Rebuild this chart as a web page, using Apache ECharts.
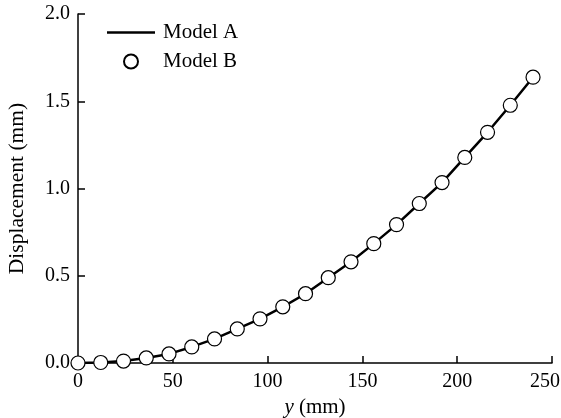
<!DOCTYPE html>
<html><head><meta charset="utf-8">
<script src="https://cdn.jsdelivr.net/npm/echarts@6/dist/echarts.min.js"></script>
<style>html,body{margin:0;padding:0;background:#fff}#c{width:561px;height:418px}</style>
</head><body><div id="c"></div>
<script>
var positions = [0,12,24,36,48,60,72,84,96,108,120,132,144,156,168,180,192,204,216,228,240];
var modelA = [0,0.003,0.011,0.029,0.052,0.092,0.138,0.195,0.253,0.322,0.397,0.489,0.580,0.684,0.793,0.914,1.034,1.178,1.322,1.477,1.638];
var modelB = [0,0.003,0.011,0.029,0.052,0.092,0.138,0.195,0.253,0.322,0.397,0.489,0.580,0.684,0.793,0.914,1.034,1.178,1.322,1.477,1.638];
var xTicks = [0,50,100,150,200,250];
var yTicks = [0,0.5,1.0,1.5,2.0];
var seriesNames = ['Model A','Model B'];

var font = 'Liberation Serif';
var chart = echarts.init(document.getElementById('c'), null, {renderer:'canvas'});
function pairs(xs, ys){ return xs.map(function(x,i){return [x, ys[i]];}); }
var xMax = xTicks[xTicks.length-1];
chart.setOption({
  animation:false,
  backgroundColor:'#fff',
  grid:{left:78,right:9,top:14,bottom:55,containLabel:false,outerBoundsMode:'none'},
  legend:{
    orient:'vertical', left:107, top:22, padding:0, itemWidth:48, itemHeight:14, itemGap:8,
    textStyle:{fontFamily:font,fontSize:21,color:'#000',padding:[0,0,0,3]},
    data:[{name:seriesNames[0],icon:'path://M0,0 L48,0 L48,2.5 L0,2.5 Z'},{name:seriesNames[1]}]
  },
  xAxis:{
    type:'value', min:xTicks[0], max:xMax, interval:50,
    name:'{i|y} (mm)', nameLocation:'middle', nameGap:27,
    nameTextStyle:{fontFamily:font,fontSize:21,color:'#000',rich:{i:{fontFamily:font,fontSize:21,fontStyle:'italic',color:'#000'}}},
    axisLine:{lineStyle:{color:'#000',width:1.5}},
    axisTick:{inside:true,length:7,lineStyle:{color:'#000',width:1.5}},
    axisLabel:{fontFamily:font,fontSize:20,color:'#000',margin:9,
      formatter:function(v){return v===xMax ? '{m|'+v+'}' : String(v);},
      rich:{m:{fontFamily:font,fontSize:20,color:'#000',padding:[0,14,0,0]}}},
    splitLine:{show:false}
  },
  yAxis:{
    type:'value', min:yTicks[0], max:yTicks[yTicks.length-1], interval:0.5,
    name:'Displacement (mm)', nameLocation:'middle', nameGap:50,
    nameTextStyle:{fontFamily:font,fontSize:21.5,color:'#000'},
    axisLine:{show:true,lineStyle:{color:'#000',width:1.5}},
    axisTick:{show:true,inside:true,length:7,lineStyle:{color:'#000',width:1.5}},
    axisLabel:{fontFamily:font,fontSize:20,color:'#000',margin:8,formatter:function(v){return v.toFixed(1);}},
    splitLine:{show:false}
  },
  series:[
    {name:seriesNames[0],type:'line',data:pairs(positions,modelA),symbol:'none',
     lineStyle:{color:'#000',width:2.5},itemStyle:{color:'#000'},z:2},
    {name:seriesNames[1],type:'scatter',data:pairs(positions,modelB),symbol:'circle',symbolSize:14,
     itemStyle:{color:'#fff',borderColor:'#000',borderWidth:1.2,opacity:1},z:3}
  ]
});
</script></body></html>
